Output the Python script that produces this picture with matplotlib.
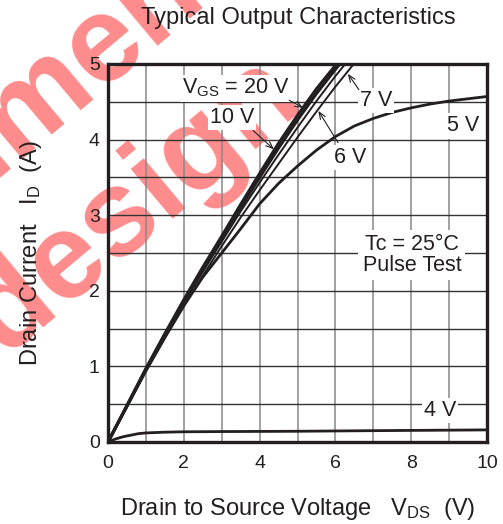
import matplotlib
matplotlib.use('Agg')
import matplotlib.pyplot as plt

plt.rcParams['font.family'] = ['Liberation Sans', 'DejaVu Sans']
plt.rcParams['mathtext.fontset'] = 'custom'
plt.rcParams['mathtext.rm'] = 'Liberation Sans'
plt.rcParams['mathtext.it'] = 'Liberation Sans'

# drain-source voltage (V) and drain current (A)
vds_lin = [0, 0.5, 1, 1.5, 2, 2.5, 3, 3.5, 4, 4.5, 5, 5.5, 6, 6.5, 7]
id_20v = [0, 0.48, 0.97, 1.43, 1.88, 2.31, 2.72, 3.14, 3.55, 3.95, 4.32, 4.67, 4.98, 5.28, 5.55]
id_10v = [0, 0.48, 0.96, 1.42, 1.86, 2.28, 2.69, 3.10, 3.50, 3.89, 4.26, 4.61, 4.93, 5.23, 5.51]
id_7v = [0, 0.47, 0.95, 1.41, 1.84, 2.25, 2.65, 3.05, 3.43, 3.80, 4.16, 4.51, 4.84, 5.15, 5.45]
id_6v = [0, 0.47, 0.94, 1.38, 1.80, 2.20, 2.59, 2.97, 3.33, 3.68, 4.03, 4.37, 4.70, 5.01, 5.31]

vds_5v = [0, 0.5, 1, 1.5, 2, 2.5, 3, 3.5, 4, 4.5, 5, 5.5, 6, 6.5, 7, 7.5, 8, 8.5, 9, 9.5, 10]
id_5v = [0, 0.47, 0.94, 1.38, 1.80, 2.18, 2.50, 2.82, 3.15, 3.42, 3.65, 3.86, 4.04, 4.18,
         4.28, 4.36, 4.42, 4.47, 4.51, 4.54, 4.57]

vds_4v = [0, 0.2, 0.4, 0.6, 0.8, 1, 1.5, 2, 3, 5, 7, 10]
id_4v = [0, 0.04, 0.07, 0.09, 0.11, 0.12, 0.13, 0.135, 0.138, 0.142, 0.15, 0.16]

x_ticks = [0, 2, 4, 6, 8, 10]
y_ticks = [0, 1, 2, 3, 4, 5]

ink = '#231f20'

fig = plt.figure(figsize=(5.03, 5.24), dpi=100, facecolor='white')
ax = fig.add_axes([108 / 503, 82 / 524, 379 / 503, 378 / 524])
ax.patch.set_alpha(0)

# watermark behind the chart ("Not recommended for new design", mostly off the page)
wm = '#ff8c8c'
fig.text(-68 / 503, 1 - 228 / 524, 'mmended', fontsize=88, fontweight='bold', color=wm,
         rotation=40, rotation_mode='anchor', ha='left', va='baseline', zorder=-5)
fig.text(4 / 503, 1 - 356 / 524, 'design', fontsize=88, fontweight='bold', color=wm,
         rotation=40, rotation_mode='anchor', ha='left', va='baseline', zorder=-5)

# grid
for v in range(1, 10):
    ax.axvline(v, color='#888888', lw=1.1, zorder=1)
for k in range(1, 10):
    ax.axhline(k * 0.5, color='#333333', lw=1.0, zorder=1)

ax.plot(vds_lin, id_20v, color=ink, lw=2.3, zorder=3)
ax.plot(vds_lin, id_10v, color=ink, lw=2.3, zorder=3)
ax.plot(vds_lin, id_7v, color=ink, lw=1.4, zorder=3)
ax.plot(vds_lin, id_6v, color=ink, lw=1.4, zorder=3)
ax.plot(vds_5v, id_5v, color=ink, lw=2.0, zorder=3)
ax.plot(vds_4v, id_4v, color=ink, lw=2.0, zorder=3)

ax.set_xlim(0, 10)
ax.set_ylim(0, 5)
ax.set_xticks(x_ticks)
ax.set_yticks(y_ticks)
ax.tick_params(length=0, labelsize=14, colors=ink)
ax.tick_params(axis='x', pad=9)
ax.tick_params(axis='y', pad=6)
for s in ax.spines.values():
    s.set_linewidth(2.4)
    s.set_color(ink)
    s.set_zorder(4)

box = dict(facecolor='white', edgecolor='none', pad=1.5)
fs = 15.5
ax.text(3.38, 4.68, r'V$_{\mathrm{GS}}$ = 20 V', fontsize=fs, color=ink, ha='center', va='center', bbox=box, zorder=5)
ax.text(3.27, 4.29, '10 V', fontsize=fs, color=ink, ha='center', va='center', bbox=box, zorder=5)
ax.text(7.07, 4.52, '7 V', fontsize=fs, color=ink, ha='center', va='center', bbox=box, zorder=5)
ax.text(6.39, 3.76, '6 V', fontsize=fs, color=ink, ha='center', va='center', bbox=box, zorder=5)
ax.text(9.37, 4.18, '5 V', fontsize=fs, color=ink, ha='center', va='center', bbox=box, zorder=5)
ax.text(8.76, 0.42, '4 V', fontsize=fs, color=ink, ha='center', va='center', bbox=box, zorder=5)
ax.text(8.02, 2.47, 'Tc = 25°C\nPulse Test', fontsize=fs, color=ink, ha='center', va='center',
        linespacing=1.0, bbox=dict(facecolor='white', edgecolor='none', pad=3), zorder=5)

arrow = dict(arrowstyle='->,head_length=0.5,head_width=0.2', lw=0.8, color=ink, shrinkA=0, shrinkB=0)
ax.annotate('', xy=(5.15, 4.42), xytext=(4.78, 4.52), arrowprops=arrow, zorder=6)
ax.annotate('', xy=(4.38, 3.87), xytext=(3.83, 4.12), arrowprops=arrow, zorder=6)
ax.annotate('', xy=(6.33, 4.87), xytext=(6.62, 4.66), arrowprops=arrow, zorder=6)
ax.annotate('', xy=(5.55, 4.38), xytext=(6.07, 3.96), arrowprops=arrow, zorder=6)

fig.text(298 / 503, 1 - 18 / 524, 'Typical Output Characteristics', fontsize=17, color=ink,
         ha='center', va='center')
ax.set_xlabel(r'Drain to Source Voltage   V$_{\mathrm{DS}}$  (V)', fontsize=17, color=ink, labelpad=18)
ax.set_ylabel(r'Drain Current   I$_{\mathrm{D}}$  (A)', fontsize=17, color=ink, labelpad=32)

fig.savefig('out.png', dpi=100, facecolor='white')
